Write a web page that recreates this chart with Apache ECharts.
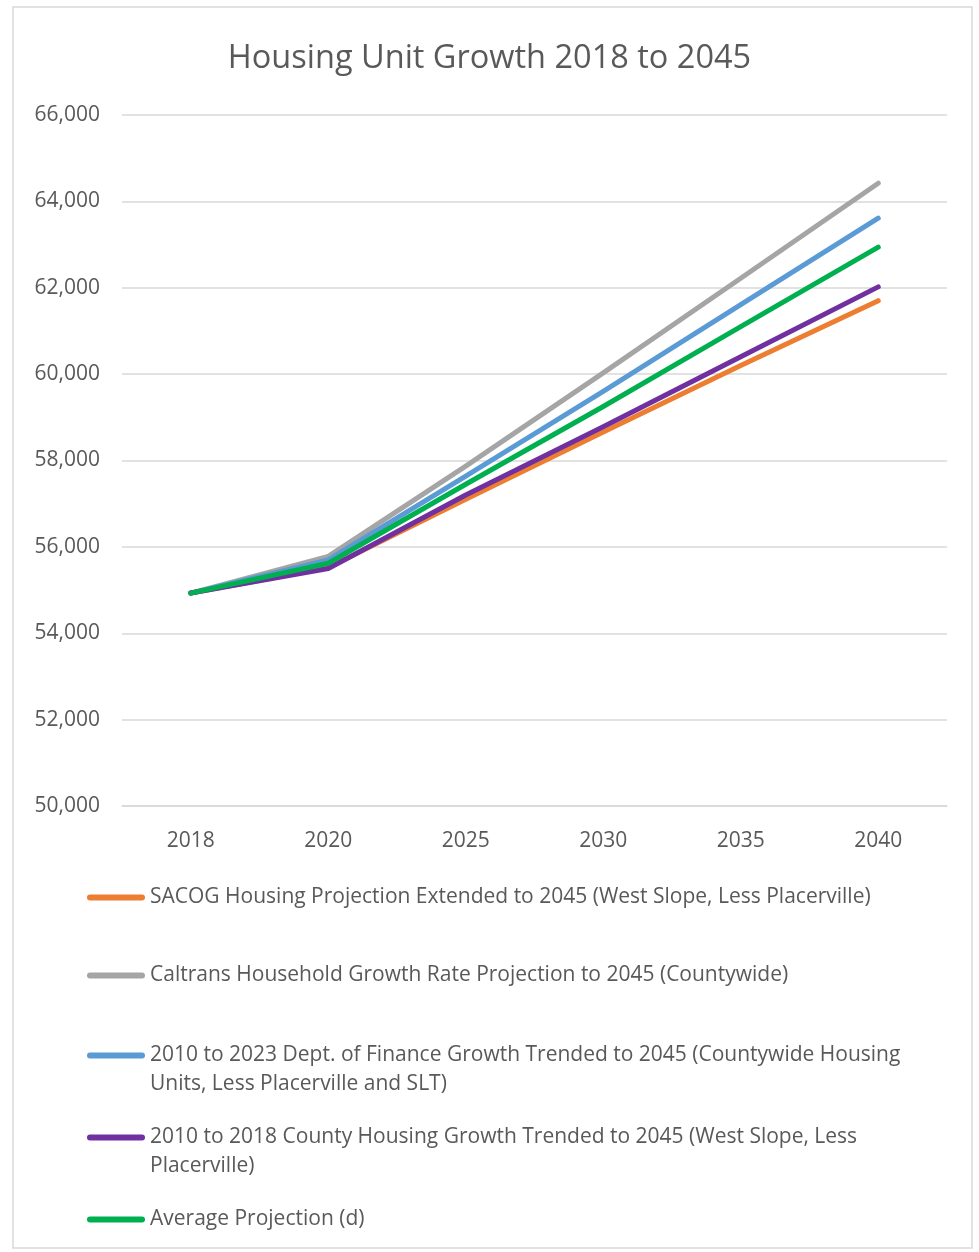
<!DOCTYPE html>
<html>
<head>
<meta charset="utf-8">
<title>Housing Unit Growth 2018 to 2045</title>
<script src="https://cdn.jsdelivr.net/npm/echarts@6/dist/echarts.min.js"></script>
<style>
  html, body { margin: 0; padding: 0; background: #fff; }
  #chart { width: 979px; height: 1252px; }
</style>
</head>
<body>
<div id="chart"></div>
<script>
const YEARS = ["2018", "2020", "2025", "2030", "2035", "2040"];

const SERIES_NAMES = [
  "SACOG Housing Projection Extended to 2045 (West Slope, Less Placerville)",
  "Caltrans Household Growth Rate Projection to 2045 (Countywide)",
  "2010 to 2023 Dept. of Finance Growth Trended to 2045 (Countywide Housing Units, Less Placerville and SLT)",
  "2010 to 2018 County Housing Growth Trended to 2045 (West Slope, Less Placerville)",
  "Average Projection (d)",
];

const sacog    = [54930, 55520, 57100, 58660, 60200, 61700];
const caltrans = [54930, 55780, 57870, 60030, 62220, 64420];
const dof      = [54930, 55700, 57640, 59600, 61610, 63610];
const county   = [54930, 55500, 57200, 58780, 60400, 62020];
const average  = [54930, 55620, 57450, 59250, 61100, 62940];

const VALUES = [sacog, caltrans, dof, county, average];
const COLORS = ["#ED7D31", "#A5A5A5", "#5B9BD5", "#7030A0", "#00B050"];

// where the long legend labels wrap in the original
const WRAP_AT = {
  2: "2010 to 2023 Dept. of Finance Growth Trended to 2045 (Countywide Housing".length,
  3: "2010 to 2018 County Housing Growth Trended to 2045 (West Slope, Less".length,
};
const LEGEND_Y = [898, 976, 1056, 1138, 1220];

const TEXT = "#595959";
const FONT = "Open Sans";
const GRID_LINE = "#d9d9d9";

const chart = echarts.init(document.getElementById("chart"));

const legends = SERIES_NAMES.map((name, i) => {
  const wrapped = WRAP_AT[i] != null;
  return {
    left: 87,
    top: LEGEND_Y[i] - (wrapped ? 44 : 15),
    padding: 0,
    orient: "vertical",
    selectedMode: false,
    data: [name],
    itemWidth: 58,
    itemHeight: 6,
    itemGap: 0,
    icon: "path://M3,0 L55,0 A3,3 0 0 1 55,6 L3,6 A3,3 0 0 1 3,0 Z",
    // text is centred on the icon, so an empty first line keeps line 1 level with it
    formatter: n => {
      if (!wrapped) return n;
      const k = WRAP_AT[i];
      return " \n" + n.slice(0, k) + "\n" + n.slice(k).trim();
    },
    textStyle: {
      color: TEXT,
      fontFamily: FONT,
      fontSize: 21,
      lineHeight: 29,
    },
  };
});

const series = SERIES_NAMES.map((name, i) => ({
  name,
  type: "line",
  data: VALUES[i],
  showSymbol: false,
  symbol: "none",
  color: COLORS[i],
  lineStyle: { width: 5, color: COLORS[i], cap: "round", join: "round" },
  emphasis: { disabled: true },
  z: 2 + i,
}));

chart.setOption({
  animation: false,
  title: {
    text: "Housing Unit Growth 2018 to 2045",
    left: "center",
    top: 37,
    textStyle: { color: TEXT, fontFamily: FONT, fontSize: 32.5, fontWeight: "normal" },
  },
  graphic: [{
    type: "rect",
    shape: { x: 13, y: 7, width: 959, height: 1241 },
    style: { fill: "none", stroke: GRID_LINE, lineWidth: 1.5 },
    silent: true,
  }],
  legend: legends,
  grid: { left: 122, right: 32, top: 115, bottom: 446 },
  xAxis: {
    type: "category",
    data: YEARS,
    boundaryGap: true,
    axisLine: { lineStyle: { color: GRID_LINE, width: 1.5 } },
    axisTick: { show: false },
    axisLabel: { color: TEXT, fontFamily: FONT, fontSize: 21, margin: 25 },
  },
  yAxis: {
    type: "value",
    min: 50000,
    max: 66000,
    interval: 2000,
    axisLine: { show: false },
    axisTick: { show: false },
    splitLine: { lineStyle: { color: GRID_LINE, width: 1.5 } },
    axisLabel: {
      color: TEXT, fontFamily: FONT, fontSize: 21, margin: 22,
      formatter: v => v.toLocaleString("en-US"),
    },
  },
  series,
});
</script>
</body>
</html>
